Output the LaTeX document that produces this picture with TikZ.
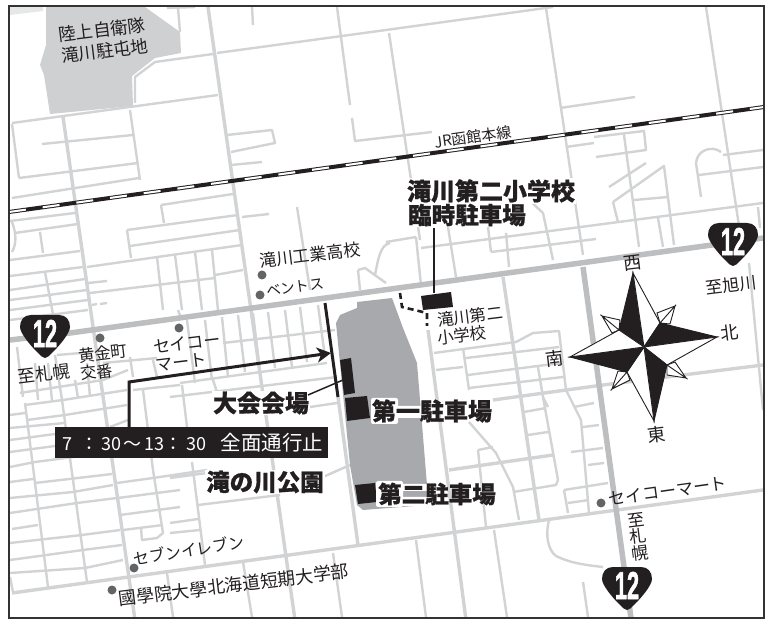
\documentclass[tikz,border=0pt]{standalone}
\usepackage{fontspec}
\usetikzlibrary{arrows.meta}
\setmainfont[BoldFeatures={FakeBold=0.8}]{Noto Sans CJK JP}
\newfontfamily\numfont[BoldFeatures={FakeBold=1.6}]{Liberation Sans}
\definecolor{roadc}{HTML}{D1D3D4}
\definecolor{hwayc}{HTML}{BCBEC0}
\definecolor{parkc}{HTML}{A7A9AC}
\definecolor{basec}{HTML}{CFD0D2}
\definecolor{dotc}{HTML}{636466}
\definecolor{inkc}{HTML}{231F20}
\newcommand\fs[1]{\fontsize{#1}{#1}\selectfont}
\newcommand\shield[3]{%
  \fill[inkc,shift={(#1,#2)}] (-14,0) -- (14,0) .. controls (21,0) and (25,5) .. (25,12)
    .. controls (25,18) and (15,30) .. (8,37) .. controls (4,41) and (2,43) .. (0,43)
    .. controls (-2,43) and (-4,41) .. (-8,37) .. controls (-15,30) and (-25,18) .. (-25,12)
    .. controls (-25,5) and (-21,0) .. (-14,0) -- cycle;
  \node[shieldnum] (#3) at (#1,#2+18.5) {\numfont\bfseries 12};}
\tikzset{
  road/.style={draw=roadc,line width=2.4,line join=round},
  roadm/.style={draw=roadc,line width=3.4,line join=round},
  hway/.style={draw=hwayc,line width=5.5},
  lbl/.style={text=inkc,inner sep=0pt,rotate=7,font=\fs{17}},
  boldlbl/.style={text=inkc,inner sep=1pt,font=\fs{24}\bfseries},
  site/.style={fill=inkc},
  tile/.style={fill=white,rounded corners=2pt},
  poi/.style={circle,fill=dotc,inner sep=0pt,minimum size=9pt},
  shieldnum/.style={text=white,inner sep=0pt,xscale=.56,font=\fs{39}},
}
\begin{document}
\begin{tikzpicture}[x=1pt,y=-1pt]
\useasboundingbox (0,0) rectangle (772,620);
\begin{scope}
\clip (9,6) rectangle (764,618);
% background areas
\fill[roadc!55] (10,7) -- (43,7) -- (43,11) -- (10,15) -- cycle;
\fill[basec] (46,7) -- (145,7) -- (180,32) -- (181,53) -- (155,58) -- (132,76) -- (133,106) -- (50,114) -- (44,75) -- (40,65) -- (46,45) -- cycle;
% upper-left roads
\draw[road] (217,53) -- (386,30) -- (553,7)
  (135,103) -- (135,77) -- (155,62) -- (213,54)
  (12,123) -- (218,95)
  (130,110) -- (140,180)
  (12,124) -- (19,178)
  (42,144) -- (133,135)
  (19,178) -- (138,163)
  (12,198) -- (139,178)
  (227,135) -- (272,130) -- (275,143) -- (231,152)
  (231,165) -- (262,162)
  (252,7) -- (253,25)
  (178,8) -- (180,32)
  (167,8) -- (195,7)
  (337,7) -- (350,105)
  (352,118) -- (355,141) -- (432,132)
  (389,33) -- (420,240)
  (546,8) -- (583,255)
  (560,108) -- (635,97)
  (706,7) -- (739,226)
  (749,263) -- (763,410);
% middle roads
\draw[road] (161,205) -- (233,194)  (161,205) -- (164,223)
  (127,230) -- (238,215)  (127,230) -- (131,258)
  (130,246) -- (240,230)
  (87,267) -- (242,245)
  (242,217) -- (269,214)
  (297,207) -- (310,290)
  (157,257) -- (163,310) (175,255) -- (182,310) (195,252) -- (202,310) (212,250) -- (218,310)
  (215,275) -- (243,270)
  (90,293) -- (215,278)
  (10,221) -- (75,213)
  (15,233) -- (78,224)
  (10,260) -- (80,251)
  (40,232) -- (43,253)
  (10,276) -- (83,267)
  (10,290) -- (85,279)  (88,283) -- (107,281)
  (10,300) -- (87,290)
  (10,310) -- (88,300)  (92,305) -- (97,304)  (100,304) -- (107,303)
  (10,320) -- (88,310)
  (45,272) -- (55,325)
  (12,222) .. controls (17,235) and (16,245) .. (12,252)
  (358,270) -- (365,268) -- (386,283)  (358,270) -- (360,290)
  (375,275) .. controls (378,260) and (380,245) .. (390,243)
  (594,137) -- (644,131) -- (646,150) -- (596,157)
  (566,147) -- (594,143)
  (624,135) -- (639,247)
  (609,187) -- (646,163)
  (613,202) -- (664,166) -- (674,245)
  (613,202) -- (618,222)
  (634,200) -- (668,197)
  (421,248) -- (763,203)
  (658,218) -- (663,247)
  (701,197) -- (696,163) .. controls (697,150) and (712,145) .. (721,152)
  (723,155) -- (763,150)
  (699,175) -- (763,167)
  (758,207) -- (760,228)
  (526,197) -- (543,213) -- (553,260)
  (488,227) -- (491,252)  (491,252) -- (596,239)
  (506,233) -- (509,267)
  (386,242) -- (416,237)
  (416,237) -- (421,285)
  (448,227) -- (456,277);
% lower-left grid
\draw[road] (17,347) -- (23,397) (35,363) -- (38,400) (48,363) -- (52,400)
  (75,380) -- (78,398) (87,363) -- (90,397) (55,355) -- (62,400) (57,355) -- (93,352)
  (20,393) -- (103,380) -- (128,370)
  (130,357) -- (133,377) (153,360) -- (157,377) (103,363) -- (157,358)
  (133,390) -- (180,385)
  (143,390) -- (153,470) -- (163,533) -- (157,538) -- (142,540) -- (141,528)
  (10,415) -- (25,413)
  (27,420) -- (65,415) -- (127,405)
  (25,403) -- (48,587)
  (62,400) -- (87,582)
  (25,405) -- (63,400) -- (127,390)
  (10,428) -- (65,423) (10,440) -- (55,434) (10,452) -- (55,446)
  (110,427) -- (128,420)
  (10,467) -- (35,462) -- (112,452)
  (10,482) -- (33,479) (35,483) -- (112,474)
  (10,498) -- (73,492) -- (113,485)
  (10,513) -- (77,503) -- (117,498)
  (12,529) -- (38,525)
  (10,543) -- (82,535) -- (120,530)
  (10,560) -- (83,550) -- (122,545)
  (10,573) -- (85,568) -- (123,560)
  (10,577) -- (13,592)
  (117,483) -- (153,478) -- (207,470)
  (118,498) -- (180,490)
  (120,515) -- (180,507)
  (123,530) -- (163,525)
  (167,573) -- (173,617)
  (192,462) -- (205,565)
  (243,562) -- (252,617)
  (333,553) -- (342,617)
  (198,505) -- (280,495)
  (170,478) -- (207,473)
  (170,523) -- (198,519) (170,533) -- (200,530)
  (222,317) -- (228,377) (238,315) -- (245,372) (253,313) -- (260,372) (268,312) -- (275,368)
  (285,310) -- (292,367) (300,307) -- (307,362) (318,305) -- (325,357)
  (205,320) -- (212,380) (187,320) -- (195,383)
  (223,343) -- (335,330)
  (180,383) -- (327,363)
  (170,397) -- (337,377)
  (310,407) -- (337,403)
  (182,385) -- (187,427)
  (213,380) -- (217,392)
  (178,310) -- (181,318);
\draw[roadm] (63,117) -- (135,620)
  (208,7) -- (295,620)
  (12,593) -- (763,490)
  (338,397) -- (358,545)
  (428,330) -- (466,620)
  (503,277) -- (539,520);
% lower-right roads
\draw[road] (434,353) -- (516,342) -- (533,333) -- (559,331) -- (566,390) -- (581,420) -- (589,513)
  (436,370) -- (463,367)
  (466,358) -- (559,347)
  (468,375) -- (561,363)
  (469,388) -- (563,377)
  (463,348) -- (469,390)
  (538,367) -- (543,397) -- (558,480) -- (556,485) -- (513,492)
  (543,397) -- (548,407)
  (524,412) -- (546,408)
  (528,435) -- (548,432)
  (469,422) -- (496,453) -- (513,487) -- (519,520)
  (478,450) -- (486,527)  (478,450) -- (493,447)
  (571,452) -- (603,448)
  (574,407) -- (594,403)
  (583,427) -- (599,425)
  (588,465) -- (604,463)
  (564,490) -- (608,483)
  (564,490) -- (568,513)
  (568,503) -- (589,500)
  (549,520) .. controls (545,535) and (548,550) .. (556,556) .. controls (570,563) and (585,565) .. (603,567)
  (583,582) -- (588,617)
  (416,540) -- (426,617)
  (494,530) -- (507,617);
\draw[roadm] (449,470) -- (553,455)
  (493,400) -- (603,385) -- (763,365);
\draw[road] (323,477) -- (350,465);
% trunk road 12
\draw[hway] (10,340) -- (70,333) -- (763,238);
\draw[hway] (583,267) -- (631,618);
% railway
\draw[inkc,line width=4] (9,212) -- (764,107);
\draw[white,line width=2,dash pattern=on 17pt off 17pt] (9,212) -- (764,107);
% park
\fill[parkc] (336,323) -- (340,315) -- (357,308) -- (357,302) -- (392,298) -- (403,328) -- (417,363) -- (427,485) -- (427,505) -- (363,510) -- (357,505) -- (350,465) -- cycle;
\end{scope}
% closure, sites and connectors
\coordinate (closeA) at (325,303);
\coordinate (closeB) at (338,397);
\draw[inkc,line width=3] (closeA) -- (closeB);
\fill[site] (340,360) -- (351,358) -- (355,393) -- (344,395) -- cycle;
\fill[site] (345,398) -- (367,396) -- (370,418) -- (347,421) -- cycle;
\fill[site] (355,485) -- (375,483) -- (377,502) -- (358,504) -- cycle;
\fill[site] (421,296) -- (451,292) -- (453,307) -- (423,310) -- cycle;
\draw[inkc,line width=2.6,dash pattern=on 6pt off 4pt] (400,293) -- (402,307) -- (427,313) -- (427,326);
% labels
\node[lbl,font=\fs{17.5}] (base1) at (102,30) {陸上自衛隊};
\node[lbl,font=\fs{17.5}] (base2) at (105,51) {滝川駐屯地};
\node[lbl,font=\fs{15},rotate=1] (rail) at (473,137) {JR函館本線};
\node[lbl] (tech) at (310,255) {滝川工業高校};
\node[lbl,font=\fs{14.5},rotate=1] (vents) at (295,287) {ベントス};
\node[lbl,font=\fs{16.5}] (kogane) at (103,353) {黄金町};
\node[lbl,font=\fs{16}] (koban) at (97,372) {交番};
\node[lbl,font=\fs{17.5}] (tosapporo) at (44,374) {至札幌};
\node[lbl] (seico1) at (187,343) {セイコー};
\node[lbl] (seico2) at (181,362) {マート};
\node[lbl] (toasahi) at (731,285) {至旭川};
\node[lbl,font=\fs{16.5}] (school1) at (470,316) {滝川第二};
\node[lbl,font=\fs{16.5}] (school2) at (462,335) {小学校};
\node[lbl,rotate=2,font=\fs{16}] (seven) at (189,550) {セブンイレブン};
\node[lbl,font=\fs{17.8}] (kokugakuin) at (234,585) {國學院大學北海道短期大学部};
\node[lbl,rotate=1] (seico3) at (668,491) {セイコーマート};
\node[lbl,align=center] (tosapporo2) at (638,537) {至\\[0pt]札\\[0pt]幌};
\node[poi] (d1) at (262,275) {};
\node[poi] (d2) at (260,295) {};
\node[poi] (d3) at (100,338) {};
\node[poi] (d4) at (179,328) {};
\node[poi] (d5) at (134,568) {};
\node[poi] (d6) at (112,590) {};
\node[poi] (d7) at (601,503) {};
% bold labels
\node[boldlbl,fill=white] (sch) at (491,191) {滝川第二小学校};
\node[boldlbl,fill=white,font=\fs{23.5}\bfseries] (schpark) at (467,215) {臨時駐車場};
\coordinate (schlot) at (434,293);
\draw[inkc,line width=1.6] (schpark.south -| schlot) -- (schlot);
\node[boldlbl,fill=white] (venue) at (261,403) {大会会場};
\coordinate (venuefrom) at (308,395);
\coordinate (venuept) at (343,380);
\draw[inkc,line width=1.5] (venuefrom) -- (venuept);
\node[boldlbl,fill=white,font=\fs{23.5}\bfseries] (park) at (265,482) {滝の川公園};
% white ground of the parking labels where they lie on the park
\fill[tile] (371,398) rectangle (398,424);
\fill[tile] (396,406) rectangle (424,418);
\fill[tile] (376,481) rectangle (403,507);
\fill[tile] (401,484) rectangle (428,491);
\fill[tile] (401,497) rectangle (428,506);
\node[boldlbl] (lot1) at (432,411) {第一駐車場};
\node[boldlbl,font=\fs{23.5}\bfseries] (lot2) at (437,494) {第二駐車場};
% banner and arrow
\node[fill=inkc,text=white,inner sep=0pt,minimum width=273pt,minimum height=31pt] (banner) at (191.5,442.5) {\hspace{3pt}\fs{18}7\hspace{8pt}：\hspace{3pt}30\hspace{2pt}〜\hspace{3pt}13：\hspace{4pt}30\hspace{14pt}\fs{20.5}全面通行止};
\coordinate (bend) at (129,382);
\coordinate (tip) at (331,353);
\draw[inkc,line width=3,-{Stealth[length=14pt,width=15pt,inset=4pt]}] (banner.north -| bend) -- (bend) -- (tip);
% compass
\coordinate (c) at (644,347);
\draw[inkc,line width=.9,line join=miter]
  [fill=inkc] (675,306) -- (657,313) -- (660,323) -- cycle
  [fill=white] (675,306) -- (660,323) -- (670,324) -- cycle
  [fill=inkc] (686,378) -- (675,362) -- (667,365) -- cycle
  [fill=white] (686,378) -- (667,375) -- (667,365) -- cycle
  [fill=inkc] (612,389) -- (630,380) -- (627,372) -- cycle
  [fill=white] (612,389) -- (618,371) -- (627,372) -- cycle
  [fill=inkc] (602,316) -- (612,333) -- (619,330) -- cycle
  [fill=white] (602,316) -- (620,320) -- (619,330) -- cycle;
\filldraw[draw=inkc,line width=.9,fill=inkc] (633,273) -- (619,330) -- (c) -- cycle;
\filldraw[draw=inkc,line width=.9,fill=white] (633,273) -- (660,323) -- (c) -- cycle;
\filldraw[draw=inkc,line width=.9,fill=inkc] (717,337) -- (660,323) -- (c) -- cycle;
\filldraw[draw=inkc,line width=.9,fill=white] (717,337) -- (667,365) -- (c) -- cycle;
\filldraw[draw=inkc,line width=.9,fill=inkc] (654,421) -- (667,365) -- (c) -- cycle;
\filldraw[draw=inkc,line width=.9,fill=white] (654,421) -- (627,372) -- (c) -- cycle;
\filldraw[draw=inkc,line width=.9,fill=inkc] (570,357) -- (627,372) -- (c) -- cycle;
\filldraw[draw=inkc,line width=.9,fill=white] (570,357) -- (619,330) -- (c) -- cycle;
\node[lbl,font=\fs{18}] (west) at (633,263) {西};
\node[lbl,font=\fs{18}] (north) at (730,333) {北};
\node[lbl,font=\fs{18}] (east) at (657,435) {東};
\node[lbl,font=\fs{18}] (south) at (555,359) {南};
% shields
\shield{733}{223}{s1}
\shield{45}{315}{s2}
\shield{627}{567}{s3}
% frame
\draw[draw=black!80,line width=2.4] (9,6) rectangle (764,618);
\end{tikzpicture}
\end{document}
